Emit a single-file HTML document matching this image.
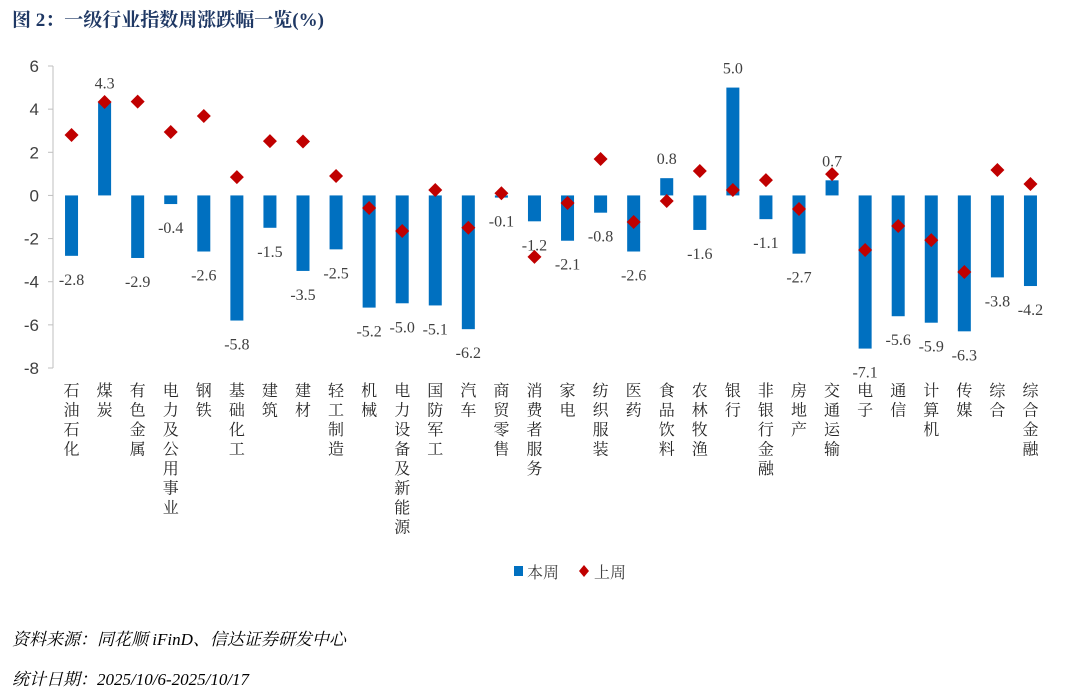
<!DOCTYPE html>
<html><head><meta charset="utf-8"><style>
body{margin:0;background:#fff;width:1080px;height:695px;overflow:hidden;font-family:"Liberation Serif","Noto Serif CJK SC",serif}
.title{position:absolute;left:12px;top:5px;font-size:19px;font-weight:bold;color:#1F3864}
.foot{position:absolute;left:12px;font-size:17px;font-style:italic;color:#000}
</style></head><body>
<div class="title">图 2：一级行业指数周涨跌幅一览(%)</div>
<svg id="chart" width="1080" height="600" style="position:absolute;left:0;top:0"></svg>
<div class="foot" style="top:625px">资料来源：同花顺 iFinD、信达证券研发中心</div>
<div class="foot" style="top:665px">统计日期：2025/10/6-2025/10/17</div>
<script>
const categories=["石油石化","煤炭","有色金属","电力及公用事业","钢铁","基础化工","建筑","建材","轻工制造","机械","电力设备及新能源","国防军工","汽车","商贸零售","消费者服务","家电","纺织服装","医药","食品饮料","农林牧渔","银行","非银行金融","房地产","交通运输","电子","通信","计算机","传媒","综合","综合金融"];
const thisWeek=[-2.8,4.3,-2.9,-0.4,-2.6,-5.8,-1.5,-3.5,-2.5,-5.2,-5.0,-5.1,-6.2,-0.1,-1.2,-2.1,-0.8,-2.6,0.8,-1.6,5.0,-1.1,-2.7,0.7,-7.1,-5.6,-5.9,-6.3,-3.8,-4.2];
const lastWeek=[2.8,4.33,4.35,2.94,3.68,0.85,2.52,2.5,0.9,-0.58,-1.65,0.25,-1.5,0.1,-2.85,-0.35,1.69,-1.23,-0.26,1.13,0.25,0.71,-0.63,0.99,-2.53,-1.42,-2.07,-3.55,1.18,0.53];
const yTicks=[6,4,2,0,-2,-4,-6,-8];
const NS="http://www.w3.org/2000/svg";
const svg=document.getElementById('chart');
const x0=55,x1=1047,yTop=66,yBot=368,vMax=6,vMin=-8;
const step=(x1-x0)/categories.length;
function xc(i){return x0+step*(i+0.5);}
function y(v){return yTop+(vMax-v)*(yBot-yTop)/(vMax-vMin);}
function mk(t,a){const e=document.createElementNS(NS,t);for(const k in a)e.setAttribute(k,a[k]);svg.appendChild(e);return e;}
let ax=mk('line',{x1:x0-2,y1:yTop,x2:x0-2,y2:yBot,stroke:'#bfbfbf','stroke-width':1});


yTicks.forEach(v=>{
  let t=mk('line',{x1:x0-7,y1:y(v),x2:x0-2,y2:y(v),stroke:'#bfbfbf'});
  
  
  let l=mk('text',{x:x0-16,y:y(v)+6,'text-anchor':'end','font-size':17,fill:'#404040','font-family':'Liberation Sans, sans-serif'});
  l.textContent=v;
  
  
});
const bw=13;
thisWeek.forEach((v,i)=>{
  const yy=Math.min(y(v),y(0)),h=Math.abs(y(v)-y(0));
  let r=mk('rect',{x:xc(i)-bw/2,y:yy,width:bw,height:h,fill:'#0070C0'});
  
  
  let t=mk('text',{x:xc(i),y:v>=0?y(v)-14:y(v)+29,'text-anchor':'middle','font-size':16,fill:'#404040'});
  t.textContent=v.toFixed(1);
  
  
});
lastWeek.forEach((v,i)=>{
  const cx=xc(i),cy=y(v),s=7;
  let p=mk('polygon',{points:`${cx},${cy-s} ${cx+s},${cy} ${cx},${cy+s} ${cx-s},${cy}`,fill:'#C00000'});
  
  
});
categories.forEach((c,i)=>{
  [...c].forEach((ch,j)=>{
    let t=mk('text',{x:xc(i),y:396+j*19.5,'text-anchor':'middle','font-size':16,fill:'#262626','font-family':'Noto Serif CJK SC, serif'});
    t.textContent=ch;
    
    
  });
});
let lg1=mk('rect',{x:514,y:566,width:9,height:10,fill:'#0070C0'});


let lt1=mk('text',{x:527,y:578,'font-size':16,fill:'#404040'});lt1.textContent='本周';


let lg2=mk('polygon',{points:'584,565 589,571 584,577 579,571',fill:'#C00000'});


let lt2=mk('text',{x:594,y:578,'font-size':16,fill:'#404040'});lt2.textContent='上周';


</script>
</body></html>
